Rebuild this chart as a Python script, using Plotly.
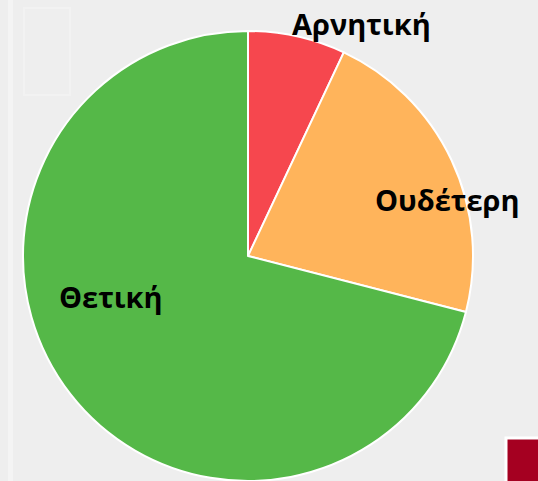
import plotly.graph_objects as go

labels = ["Αρνητική", "Ουδέτερη", "Θετική"]
values = [7, 22, 71]
colors = ["#F6474E", "#FFB45B", "#55B848"]

W, H = 538, 481
cx, cy, r = 248, 257, 226

fig = go.Figure(go.Pie(
    labels=labels,
    values=values,
    sort=False,
    direction="clockwise",
    rotation=0,
    textinfo="none",
    hoverinfo="label+percent",
    marker=dict(colors=colors, line=dict(color="#FFFFFF", width=2)),
    domain=dict(x=[(cx - r) / W, (cx + r) / W], y=[max(0, 1 - (cy + r) / H), 1 - (cy - r) / H]),
    showlegend=False,
))

label_pos = {"Αρνητική": (361, 23), "Ουδέτερη": (447, 199), "Θετική": (111, 296)}
for lab in labels:
    px, py = label_pos[lab]
    fig.add_annotation(
        x=px / W, y=1 - py / H, xref="paper", yref="paper",
        text=f"<b>{lab}</b>", showarrow=False,
        font=dict(family="Open Sans", size=29, color="#000000"),
        xanchor="center", yanchor="middle",
    )

shapes = [
    dict(type="rect", x0=8 / W, x1=13 / W, y0=0, y1=1, line=dict(width=0), fillcolor="rgba(255,255,255,0.35)"),
    dict(type="rect", x0=24 / W, x1=70 / W, y0=1 - 95 / H, y1=1 - 8 / H, line=dict(color="rgba(255,255,255,0.25)", width=2), fillcolor="rgba(0,0,0,0)"),
    dict(type="rect", x0=506 / W, x1=1.02, y0=-0.02, y1=1 - 438 / H, line=dict(color="#FFFFFF", width=3), fillcolor="#A50021"),
]
fig.update_layout(
    width=W, height=H,
    margin=dict(l=0, r=0, t=0, b=0),
    paper_bgcolor="#EEEEEE",
    plot_bgcolor="#EEEEEE",
    shapes=shapes,
)

fig.write_html("out.html", config={"displayModeBar": False},
               post_script="document.body.style.margin='0';document.body.style.background='#EEEEEE';")
